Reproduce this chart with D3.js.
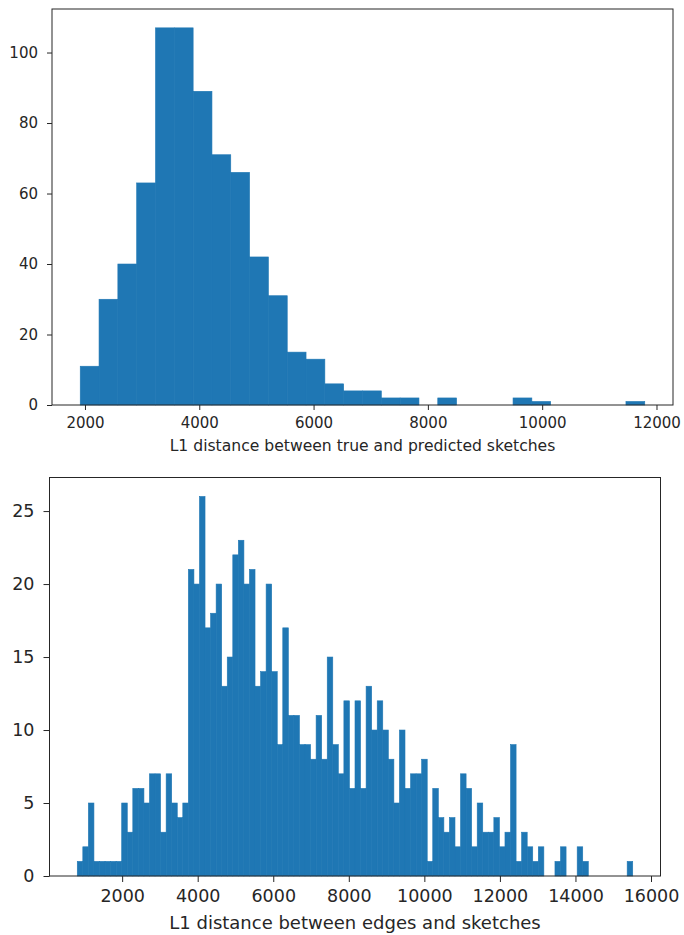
<!DOCTYPE html>
<html>
<head>
<meta charset="utf-8">
<script src="https://cdn.jsdelivr.net/npm/d3@7"></script>
<style>
  body { margin: 0; background: #fff; }
  text { font-family: "DejaVu Sans", sans-serif; fill: #262626; }
</style>
</head>
<body>
<script>
// histogram counts (30 bins top, 100 bins bottom)
var topCounts = [11, 30, 40, 63, 107, 107, 89, 71, 66, 42, 31, 15, 13, 6, 4,
                 4, 2, 2, 0, 2, 0, 0, 0, 2, 1, 0, 0, 0, 0, 1];
var topRange = [1917, 11795];
var topTicksX = [2000, 4000, 6000, 8000, 10000, 12000];
var topTicksY = [0, 20, 40, 60, 80, 100];
var topLabel = "L1 distance between true and predicted sketches";

var bottomCounts = [1, 2, 5, 1, 1, 1, 1, 1, 5, 3, 6, 6, 5, 7, 7, 3, 7, 5, 4, 5,
                    21, 20, 26, 17, 18, 20, 13, 15, 22, 23, 20, 21, 13, 14, 20, 14, 9, 17, 11, 11,
                    9, 9, 8, 11, 8, 15, 9, 7, 12, 6, 12, 6, 13, 10, 12, 10, 8, 5, 10, 6,
                    7, 7, 8, 1, 6, 4, 3, 4, 2, 7, 6, 2, 5, 3, 3, 4, 2, 3, 9, 1,
                    3, 2, 1, 2, 0, 0, 1, 2, 0, 0, 2, 1, 0, 0, 0, 0, 0, 0, 0, 1];
var bottomRange = [812, 15516];
var bottomTicksX = [2000, 4000, 6000, 8000, 10000, 12000, 14000, 16000];
var bottomTicksY = [0, 5, 10, 15, 20, 25];
var bottomLabel = "L1 distance between edges and sketches";

var svg = d3.select("body").append("svg")
    .attr("width", 684)
    .attr("height", 935);

function histogram(counts, range, ticksX, ticksY, label, box, font) {
  var n = counts.length,
      step = (range[1] - range[0]) / n,
      pad = (range[1] - range[0]) * 0.05;

  var x = d3.scaleLinear()
      .domain([range[0] - pad, range[1] + pad])
      .range([box.left, box.right]);
  var y = d3.scaleLinear()
      .domain([0, d3.max(counts) * 1.05])
      .range([box.bottom, box.top]);

  var g = svg.append("g");

  // thin stroke in the fill colour hides the antialiasing seams between bars
  g.append("g").selectAll("rect")
      .data(counts.map(function(c, i) { return {c: c, i: i}; }).filter(function(d) { return d.c > 0; }))
    .enter().append("rect")
      .attr("x", function(d) { return x(range[0] + d.i * step); })
      .attr("width", function(d) { return x(range[0] + (d.i + 1) * step) - x(range[0] + d.i * step); })
      .attr("y", function(d) { return y(d.c); })
      .attr("height", function(d) { return y(0) - y(d.c); })
      .attr("fill", "#1f77b4")
      .attr("stroke", "#1f77b4")
      .attr("stroke-width", 0.6);

  var xAxis = g.append("g")
      .attr("transform", "translate(0," + box.bottom + ")")
      .call(d3.axisBottom(x).tickValues(ticksX).tickSize(font.tick).tickPadding(font.padX).tickFormat(d3.format("d")));
  var yAxis = g.append("g")
      .attr("transform", "translate(" + box.left + ",0)")
      .call(d3.axisLeft(y).tickValues(ticksY).tickSize(font.tick).tickPadding(font.padY).tickFormat(d3.format("d")));

  [xAxis, yAxis].forEach(function(a) {
    a.select(".domain").remove();
    a.selectAll("line").attr("stroke", "#262626");
    a.selectAll("text").attr("font-size", font.size).attr("fill", "#262626")
      .attr("font-family", "DejaVu Sans, sans-serif");
  });

  // frame
  g.append("rect")
      .attr("x", box.left)
      .attr("y", box.top)
      .attr("width", box.right - box.left)
      .attr("height", box.bottom - box.top)
      .attr("fill", "none")
      .attr("stroke", "#262626")
      .attr("stroke-width", 1);

  g.append("text")
      .attr("x", (box.left + box.right) / 2)
      .attr("y", box.bottom + font.labelY)
      .attr("text-anchor", "middle")
      .attr("font-size", font.label)
      .text(label);
}

histogram(topCounts, topRange, topTicksX, topTicksY, topLabel,
  {left: 52, right: 673, top: 9, bottom: 405},
  {size: 15, label: 15.6, tick: 5, padX: 7, padY: 9, labelY: 46});

histogram(bottomCounts, bottomRange, bottomTicksX, bottomTicksY, bottomLabel,
  {left: 49.5, right: 660.5, top: 477.5, bottom: 876},
  {size: 17.5, label: 18, tick: 6, padX: 8, padY: 9, labelY: 53});
</script>
</body>
</html>
